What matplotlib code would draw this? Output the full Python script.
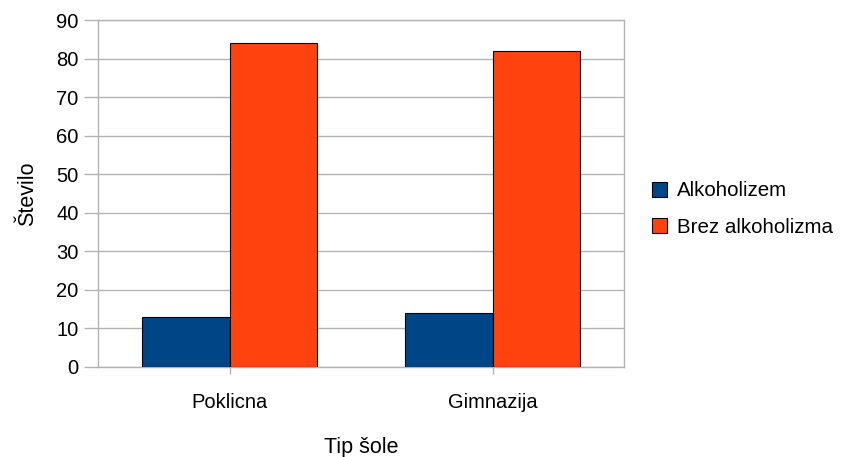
import numpy as np
import matplotlib
matplotlib.use("Agg")
import matplotlib.pyplot as plt
from matplotlib.patches import Patch

categories = ["Poklicna", "Gimnazija"]
series_names = ["Alkoholizem", "Brez alkoholizma"]
alkoholizem = [13, 14]
brez_alkoholizma = [84, 82]
yticks = [0, 10, 20, 30, 40, 50, 60, 70, 80, 90]

colors = ["#004586", "#ff420e"]

plt.rcParams["font.family"] = ["Liberation Sans", "DejaVu Sans"]

fig = plt.figure(figsize=(8.41, 4.57), dpi=100)
ax = fig.add_axes([98 / 841, 1 - 367 / 457, (624 - 98) / 841, (367 - 20) / 457])

x = np.arange(len(categories))
w = 1 / 3
ax.bar(x - w / 2, alkoholizem, w, color=colors[0], edgecolor="black", linewidth=0.8, zorder=3)
ax.bar(x + w / 2, brez_alkoholizma, w, color=colors[1], edgecolor="black", linewidth=0.8, zorder=3)

ax.set_xlim(-0.5, len(categories) - 0.5)
ax.set_ylim(0, 90)
ax.set_yticks(yticks)
ax.set_xticks(x)
ax.set_xticklabels(categories)
ax.tick_params(axis="y", length=10, width=1, color="#b3b3b3", labelsize=14.5, pad=4)
ax.tick_params(axis="x", length=5, width=1, color="#b3b3b3", labelsize=14.5, pad=14, direction="out")
ax.grid(axis="y", color="#b3b3b3", linewidth=1, zorder=0)
for s in ax.spines.values():
    s.set_color("#b3b3b3")
    s.set_linewidth(1)

ax.set_ylabel("Število", fontsize=15.5, labelpad=13)
ax.set_xlabel("Tip šole", fontsize=15.5, labelpad=18)

handles = [Patch(facecolor=c, edgecolor="black", linewidth=0.8) for c in colors]
fig.legend(handles, series_names, loc="center left", bbox_to_anchor=(652 / 841, 1 - 209 / 457),
           frameon=False, fontsize=14.8, handlelength=0.75, handleheight=0.75,
           handletextpad=0.45, labelspacing=0.85, borderaxespad=0, borderpad=0)

fig.savefig("out.png", dpi=100)
